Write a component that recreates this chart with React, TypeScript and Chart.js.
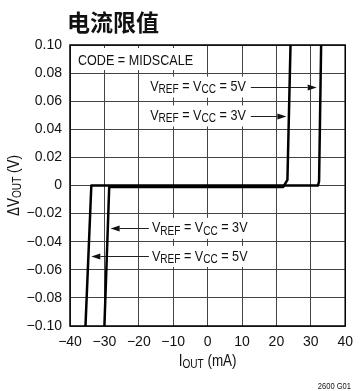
import { useEffect, useRef } from "react";
import { Chart, registerables } from "chart.js";

Chart.register(...registerables);

// Output current axis (mA) and output voltage change axis (V)
const xTickValues = [-40, -30, -20, -10, 0, 10, 20, 30, 40];
const yTickValues = [-0.1, -0.08, -0.06, -0.04, -0.02, 0, 0.02, 0.04, 0.06, 0.08, 0.1];

// VREF = VCC = 3V curve
const iout3V = [-30.0, -28.6, 22.0, 23.2, 24.1];
const dvout3V = [-0.1, -0.001, -0.001, 0.004, 0.1];

// VREF = VCC = 5V curve
const iout5V = [-35.5, -33.8, 32.1, 32.4, 33.0];
const dvout5V = [-0.1, 0, 0, 0.003, 0.1];

// Curve callouts: label anchor (left edge of text, vertical centre) and arrow tip
const calloutSupply = ["5V", "3V", "3V", "5V"];
const calloutTextX = [-16.7, -16.7, -16.2, -16.2];
const calloutY = [0.07, 0.0495, -0.0305, -0.0505];
const calloutTipX = [31.7, 22.9, -28.2, -33.8];

const TITLE = "电流限值";
const NOTE = "CODE = MIDSCALE";
const FIG_ID = "2600 G01";

const FAM = '"Liberation Sans", Arial, sans-serif';
const SQUEEZE = 0.84; // condensed look for annotation text
const INK = "#111";

type Part = { t: string; sub?: boolean };

function richWidth(ctx: CanvasRenderingContext2D, parts: Part[], size: number, sub: number) {
  let w = 0;
  for (const p of parts) {
    ctx.font = `${p.sub ? sub : size}px ${FAM}`;
    w += ctx.measureText(p.t).width;
  }
  return w * SQUEEZE;
}

function drawRich(ctx: CanvasRenderingContext2D, parts: Part[], x: number, y: number, size: number, sub: number) {
  ctx.save();
  ctx.translate(x, y);
  ctx.scale(SQUEEZE, 1);
  let cx = 0;
  ctx.textBaseline = "middle";
  ctx.textAlign = "left";
  for (const p of parts) {
    ctx.font = `${p.sub ? sub : size}px ${FAM}`;
    ctx.fillText(p.t, cx, p.sub ? 3 : 0);
    cx += ctx.measureText(p.t).width;
  }
  ctx.restore();
}

function arrow(ctx: CanvasRenderingContext2D, x0: number, y: number, x1: number) {
  const dir = Math.sign(x1 - x0);
  const head = 9;
  ctx.save();
  ctx.strokeStyle = "#222";
  ctx.fillStyle = "#111";
  ctx.lineWidth = 1;
  ctx.beginPath();
  ctx.moveTo(x0, y + 0.5);
  ctx.lineTo(x1 - dir * head, y + 0.5);
  ctx.stroke();
  ctx.beginPath();
  ctx.moveTo(x1, y + 0.5);
  ctx.lineTo(x1 - dir * head, y - 2.5);
  ctx.lineTo(x1 - dir * head, y + 3.5);
  ctx.closePath();
  ctx.fill();
  ctx.restore();
}

const decorations = {
  id: "decorations",
  beforeDatasetsDraw(chart: Chart) {
    const ctx = chart.ctx;
    const xs = chart.scales.x;
    const ys = chart.scales.y;
    const area = chart.chartArea;
    ctx.save();

    // note box in the upper-left cell
    const ny = ys.getPixelForValue(0.089);
    ctx.fillStyle = "#fff";
    ctx.fillRect(area.left + 1, area.top + 3, 129, 22);
    ctx.fillStyle = INK;
    drawRich(ctx, [{ t: NOTE }], xs.getPixelForValue(-37.7), ny, 15, 12);

    // curve callouts
    for (let i = 0; i < calloutSupply.length; i++) {
      const parts: Part[] = [
        { t: "V" },
        { t: "REF", sub: true },
        { t: " = V" },
        { t: "CC", sub: true },
        { t: ` = ${calloutSupply[i]}` },
      ];
      const tx = xs.getPixelForValue(calloutTextX[i]);
      const ty = ys.getPixelForValue(calloutY[i]);
      const w = richWidth(ctx, parts, 15, 12);
      ctx.fillStyle = "#fff";
      ctx.fillRect(tx - 5, ty - 10.5, w + 8, 21);
      ctx.fillStyle = INK;
      drawRich(ctx, parts, tx, ty, 15, 12);
      const tip = xs.getPixelForValue(calloutTipX[i]);
      if (tip > tx) arrow(ctx, tx + w + 5, Math.round(ty), tip);
      else arrow(ctx, tx - 3, Math.round(ty), tip);
    }
    ctx.restore();
  },
  afterDraw(chart: Chart) {
    const ctx = chart.ctx;
    const a = chart.chartArea;
    ctx.save();
    // plot frame
    ctx.strokeStyle = "#000";
    ctx.lineWidth = 1.5;
    ctx.strokeRect(a.left, a.top, a.right - a.left, a.bottom - a.top);

    // title
    ctx.fillStyle = INK;
    ctx.font = `bold 23px "Noto Sans CJK SC", sans-serif`;
    ctx.textAlign = "left";
    ctx.textBaseline = "middle";
    ctx.fillText(TITLE, 67, 22);

    // x axis title
    const xParts: Part[] = [{ t: "I" }, { t: "OUT", sub: true }, { t: " (mA)" }];
    const xw = richWidth(ctx, xParts, 16, 12);
    drawRich(ctx, xParts, (a.left + a.right) / 2 - xw / 2, 362, 16, 12);

    // y axis title, rotated
    const yParts: Part[] = [{ t: "\u0394V" }, { t: "OUT", sub: true }, { t: " (V)" }];
    const yw = richWidth(ctx, yParts, 16, 12);
    ctx.save();
    ctx.translate(15, (a.top + a.bottom) / 2);
    ctx.rotate(-Math.PI / 2);
    drawRich(ctx, yParts, -yw / 2, 0, 16, 12);
    ctx.restore();

    // figure id
    ctx.save();
    ctx.translate(351, 387);
    ctx.scale(SQUEEZE, 1);
    ctx.font = `9px ${FAM}`;
    ctx.textAlign = "right";
    ctx.textBaseline = "middle";
    ctx.fillText(FIG_ID, 0, 0);
    ctx.restore();
    ctx.restore();
  },
};

function fmtX(v: number) {
  return v < 0 ? `\u2212${Math.abs(v)}` : `${v}`;
}
function fmtY(v: number) {
  if (Math.abs(v) < 1e-9) return "0";
  return (v < 0 ? "\u2212" : "") + Math.abs(v).toFixed(2);
}

export default function App() {
  const ref = useRef<HTMLCanvasElement | null>(null);

  useEffect(() => {
    if (!ref.current) return;
    const chart = new Chart(ref.current, {
      type: "scatter",
      data: {
        datasets: [
          {
            label: "VREF = VCC = 3V",
            data: iout3V.map((x, i) => ({ x, y: dvout3V[i] })),
            showLine: true,
            borderColor: "#000",
            borderWidth: 2.5,
            pointRadius: 0,
            borderJoinStyle: "round",
          },
          {
            label: "VREF = VCC = 5V",
            data: iout5V.map((x, i) => ({ x, y: dvout5V[i] })),
            showLine: true,
            borderColor: "#000",
            borderWidth: 2.5,
            pointRadius: 0,
            borderJoinStyle: "round",
          },
        ],
      },
      options: {
        animation: false,
        responsive: false,
        devicePixelRatio: 1,
        layout: { padding: { left: 0, top: 45, right: 9, bottom: 0 } },
        plugins: { legend: { display: false }, tooltip: { enabled: false }, title: { display: false } },
        scales: {
          x: {
            type: "linear",
            min: -40,
            max: 40,
            afterBuildTicks: (s: any) => {
              s.ticks = xTickValues.map((value) => ({ value }));
            },
            afterFit: (s: any) => {
              s.height = 65;
            },
            grid: { color: "#444", lineWidth: 1, drawTicks: false },
            border: { display: false },
            ticks: {
              padding: 8,
              color: INK,
              font: { family: FAM, size: 14 },
              maxRotation: 0,
              autoSkip: false,
              callback: (v: any) => fmtX(Number(v)),
            },
          },
          y: {
            type: "linear",
            min: -0.1,
            max: 0.1,
            afterBuildTicks: (s: any) => {
              s.ticks = yTickValues.map((value) => ({ value }));
            },
            afterFit: (s: any) => {
              s.width = 70;
            },
            grid: { color: "#444", lineWidth: 1, drawTicks: false },
            border: { display: false },
            ticks: {
              padding: 8,
              color: INK,
              font: { family: FAM, size: 14 },
              autoSkip: false,
              callback: (v: any) => fmtY(Number(v)),
            },
          },
        },
      },
      plugins: [decorations],
    });
    return () => chart.destroy();
  }, []);

  return (
    <div style={{ position: "absolute", left: 0, top: 0, width: 361, height: 391, background: "#fff" }}>
      <canvas ref={ref} width={361} height={391} />
    </div>
  );
}
